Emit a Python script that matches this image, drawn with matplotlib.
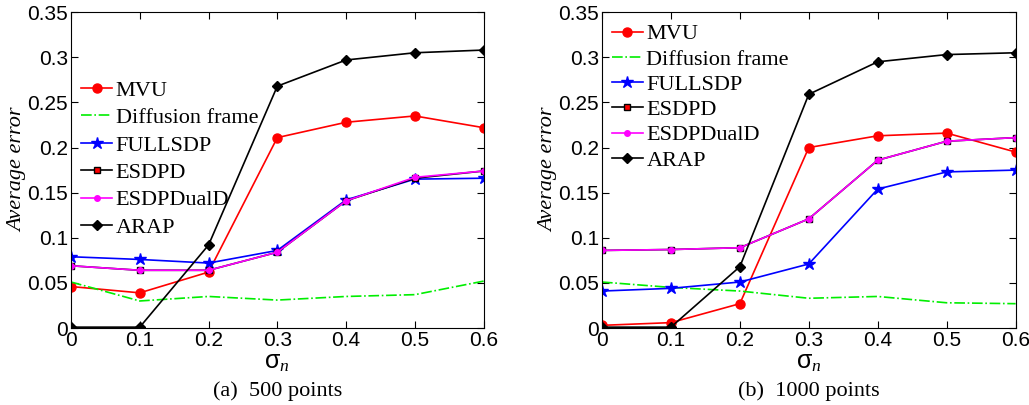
import numpy as np
import matplotlib
matplotlib.use("Agg")
import matplotlib.pyplot as plt

plt.rcParams["mathtext.fontset"] = "custom"
plt.rcParams["mathtext.rm"] = "Liberation Sans"
plt.rcParams["mathtext.it"] = "Liberation Serif:italic"

sigma = [0, 0.1, 0.2, 0.3, 0.4, 0.5, 0.6]

# (a) 500 points
mvu_a = [0.046, 0.039, 0.062, 0.211, 0.228, 0.235, 0.222]
diff_a = [0.051, 0.030, 0.035, 0.031, 0.035, 0.037, 0.052]
full_a = [0.079, 0.076, 0.072, 0.086, 0.142, 0.165, 0.166]
esdpd_a = [0.069, 0.064, 0.064, 0.084, 0.141, 0.166, 0.174]
dual_a = [0.069, 0.064, 0.064, 0.084, 0.141, 0.167, 0.174]
arap_a = [0.001, 0.001, 0.092, 0.268, 0.297, 0.305, 0.308]

# (b) 1000 points
mvu_b = [0.003, 0.006, 0.027, 0.200, 0.213, 0.216, 0.195]
diff_b = [0.051, 0.045, 0.041, 0.033, 0.035, 0.028, 0.027]
full_b = [0.041, 0.044, 0.051, 0.071, 0.154, 0.173, 0.175]
esdpd_b = [0.086, 0.087, 0.089, 0.121, 0.186, 0.207, 0.211]
dual_b = [0.086, 0.087, 0.089, 0.121, 0.186, 0.207, 0.211]
arap_b = [0.001, 0.001, 0.068, 0.259, 0.295, 0.303, 0.305]

yticks = [0, 0.05, 0.1, 0.15, 0.2, 0.25, 0.3, 0.35]
ytick_labels = ["0", "0.05", "0.1", "0.15", "0.2", "0.25", "0.3", "0.35"]
xtick_labels = ["0", "0.1", "0.2", "0.3", "0.4", "0.5", "0.6"]

# caption, series, axes rect, legend anchor, legend label spacing
panels = [
    ("(a)  500 points", [mvu_a, diff_a, full_a, esdpd_a, dual_a, arap_a],
     [0.069, 0.19, 0.401, 0.78], (0.025, 0.785), 0.31),
    ("(b)  1000 points", [mvu_b, diff_b, full_b, esdpd_b, dual_b, arap_b],
     [0.585, 0.19, 0.402, 0.78], (0.024, 0.963), 0.21),
]

names = ["MVU", "Diffusion frame", "FULLSDP", "ESDPD", "ESDPDualD", "ARAP"]
styles = [
    dict(color="red", marker="o", ms=6.5, mfc="red", mec="red", ls="-"),
    dict(color="#00ee00", marker=None, ls="-."),
    dict(color="blue", marker="*", ms=9, mfc="blue", mec="blue", ls="-"),
    dict(color="black", marker="s", ms=5, mfc="red", mec="black", ls="-"),
    dict(color="magenta", marker="o", ms=4, mfc="magenta", mec="magenta", ls="-"),
    dict(color="black", marker="D", ms=5, mfc="black", mec="black", ls="-"),
]

fig = plt.figure(figsize=(10.29, 4.05), dpi=100)
serif = "Liberation Serif"
sans = "Liberation Sans"

for caption, series, rect, leg_pos, spacing in panels:
    ax = fig.add_axes(rect)
    for name, vals, st in zip(names, series, styles):
        ax.plot(sigma, vals, label=name, lw=1.2, **st)
    ax.set_xlim(0, 0.6)
    ax.set_ylim(0, 0.35)
    ax.set_xticks(sigma)
    ax.set_xticklabels(xtick_labels, fontfamily=sans, fontsize=15)
    ax.set_yticks(yticks)
    ax.set_yticklabels(ytick_labels, fontfamily=sans, fontsize=15)
    ax.tick_params(direction="in", top=True, right=True, length=5, pad=2)
    ax.set_ylabel("Average error", fontfamily=serif, fontstyle="italic",
                  fontsize=16, labelpad=0)
    ax.set_xlabel(r"$\mathrm{\sigma}_{\mathit{n}}$", fontsize=18, labelpad=0)
    ax.text(0.5, -0.2, caption, transform=ax.transAxes, ha="center",
            va="center", fontfamily=serif, fontsize=16)
    ax.legend(loc="upper left", bbox_to_anchor=leg_pos, frameon=False,
              prop={"family": serif, "size": 16}, handlelength=1.4,
              handletextpad=0.15, labelspacing=spacing, borderaxespad=0,
              borderpad=0)

fig.savefig("out.png", dpi=100)
